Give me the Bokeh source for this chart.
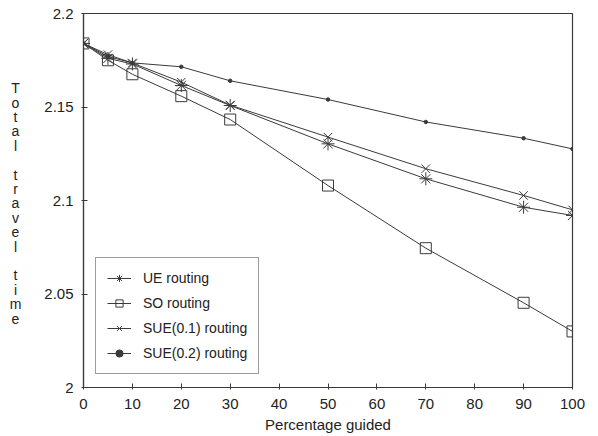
from bokeh.plotting import figure
from bokeh.models import FixedTicker, Label, Legend
from bokeh.embed import file_html
from bokeh.resources import INLINE

pct = [0, 5, 10, 20, 30, 50, 70, 90, 100]
ue = [2.184, 2.176, 2.173, 2.1615, 2.1508, 2.1303, 2.1116, 2.0964, 2.092]
so = [2.184, 2.175, 2.1675, 2.1558, 2.1433, 2.108, 2.0745, 2.0453, 2.030]
sue01 = [2.184, 2.178, 2.1735, 2.1633, 2.151, 2.1339, 2.117, 2.1027, 2.095]
sue02 = [2.184, 2.177, 2.1736, 2.1715, 2.164, 2.154, 2.142, 2.1333, 2.1276]
y_ticks = [2.0, 2.05, 2.1, 2.15, 2.2]
y_tick_labels = ["2", "2.05", "2.1", "2.15", "2.2"]
x_ticks = [0, 10, 20, 30, 40, 50, 60, 70, 80, 90, 100]
series_names = ["UE routing", "SO routing", "SUE(0.1) routing", "SUE(0.2) routing"]

FONT = "Liberation Sans"
LC = "#3a3a3a"

p = figure(width=598, height=436, output_backend="svg", toolbar_location=None,
           x_range=(0, 100), y_range=(2.0, 2.2),
           min_border_left=83, min_border_right=26, min_border_top=13, min_border_bottom=49)
p.grid.visible = False
p.outline_line_color = LC
p.outline_line_width = 1.2
p.background_fill_color = "white"

p.xaxis.ticker = FixedTicker(ticks=x_ticks)
p.yaxis.ticker = FixedTicker(ticks=y_ticks)
p.yaxis.major_label_overrides = {t: l for t, l in zip(y_ticks, y_tick_labels)}
for ax in (p.xaxis[0], p.yaxis[0]):
    ax.axis_line_color = LC
    ax.axis_line_width = 1.2
    ax.major_tick_line_color = LC
    ax.major_tick_in = 4
    ax.major_tick_out = 2
    ax.minor_tick_line_color = None
    ax.major_label_text_font = FONT
    ax.major_label_text_font_size = "15px"
    ax.major_label_text_color = "#222222"
p.xaxis.axis_label = "Percentage guided"
p.xaxis.axis_label_text_font = FONT
p.xaxis.axis_label_text_font_size = "15px"
p.xaxis.axis_label_text_font_style = "normal"
p.xaxis.axis_label_text_color = "#222222"
p.xaxis.axis_label_standoff = 4
p.xaxis.major_label_standoff = 9
p.yaxis.major_label_standoff = 8

r1 = p.line(pct, ue, line_color=LC, line_width=1)
m1 = p.scatter(pct, ue, marker="asterisk", size=13, line_color=LC, fill_color=None, line_width=1)
r2 = p.line(pct, so, line_color=LC, line_width=1)
m2 = p.scatter(pct, so, marker="square", size=11, line_color=LC, fill_color=None, line_width=1)
r3 = p.line(pct, sue01, line_color=LC, line_width=1)
m3 = p.scatter(pct, sue01, marker="x", size=12, line_color=LC, fill_color=None, line_width=1)
r4 = p.line(pct, sue02, line_color=LC, line_width=1)
m4 = p.scatter(pct, sue02, marker="circle", size=3.5, line_color=LC, fill_color=LC)

legend = Legend(items=[(series_names[0], [r1, m1]), (series_names[1], [r2, m2]),
                       (series_names[2], [r3, m3]), (series_names[3], [r4, m4])],
                location=(12, 13))
legend.border_line_color = LC
legend.border_line_width = 1.5
legend.label_text_font = FONT
legend.label_text_font_size = "14px"
legend.label_text_color = "#222222"
legend.glyph_width = 24
legend.glyph_height = 18
legend.label_height = 18
legend.spacing = 7
legend.padding = 11
legend.margin = 0
legend.label_standoff = 12
p.add_layout(legend, "center")

ylab = Label(x=-14, y=184, x_units="screen", y_units="screen",
             text="T\no\nt\na\nl\n\nt\nr\na\nv\ne\nl\n\nt\ni\nm\ne",
             text_font=FONT, text_font_size="14px", text_color="#222222",
             text_align="center", text_baseline="middle", text_line_height=0.9)
p.add_layout(ylab, "left")

open("out.html", "w").write(file_html(p, INLINE))
